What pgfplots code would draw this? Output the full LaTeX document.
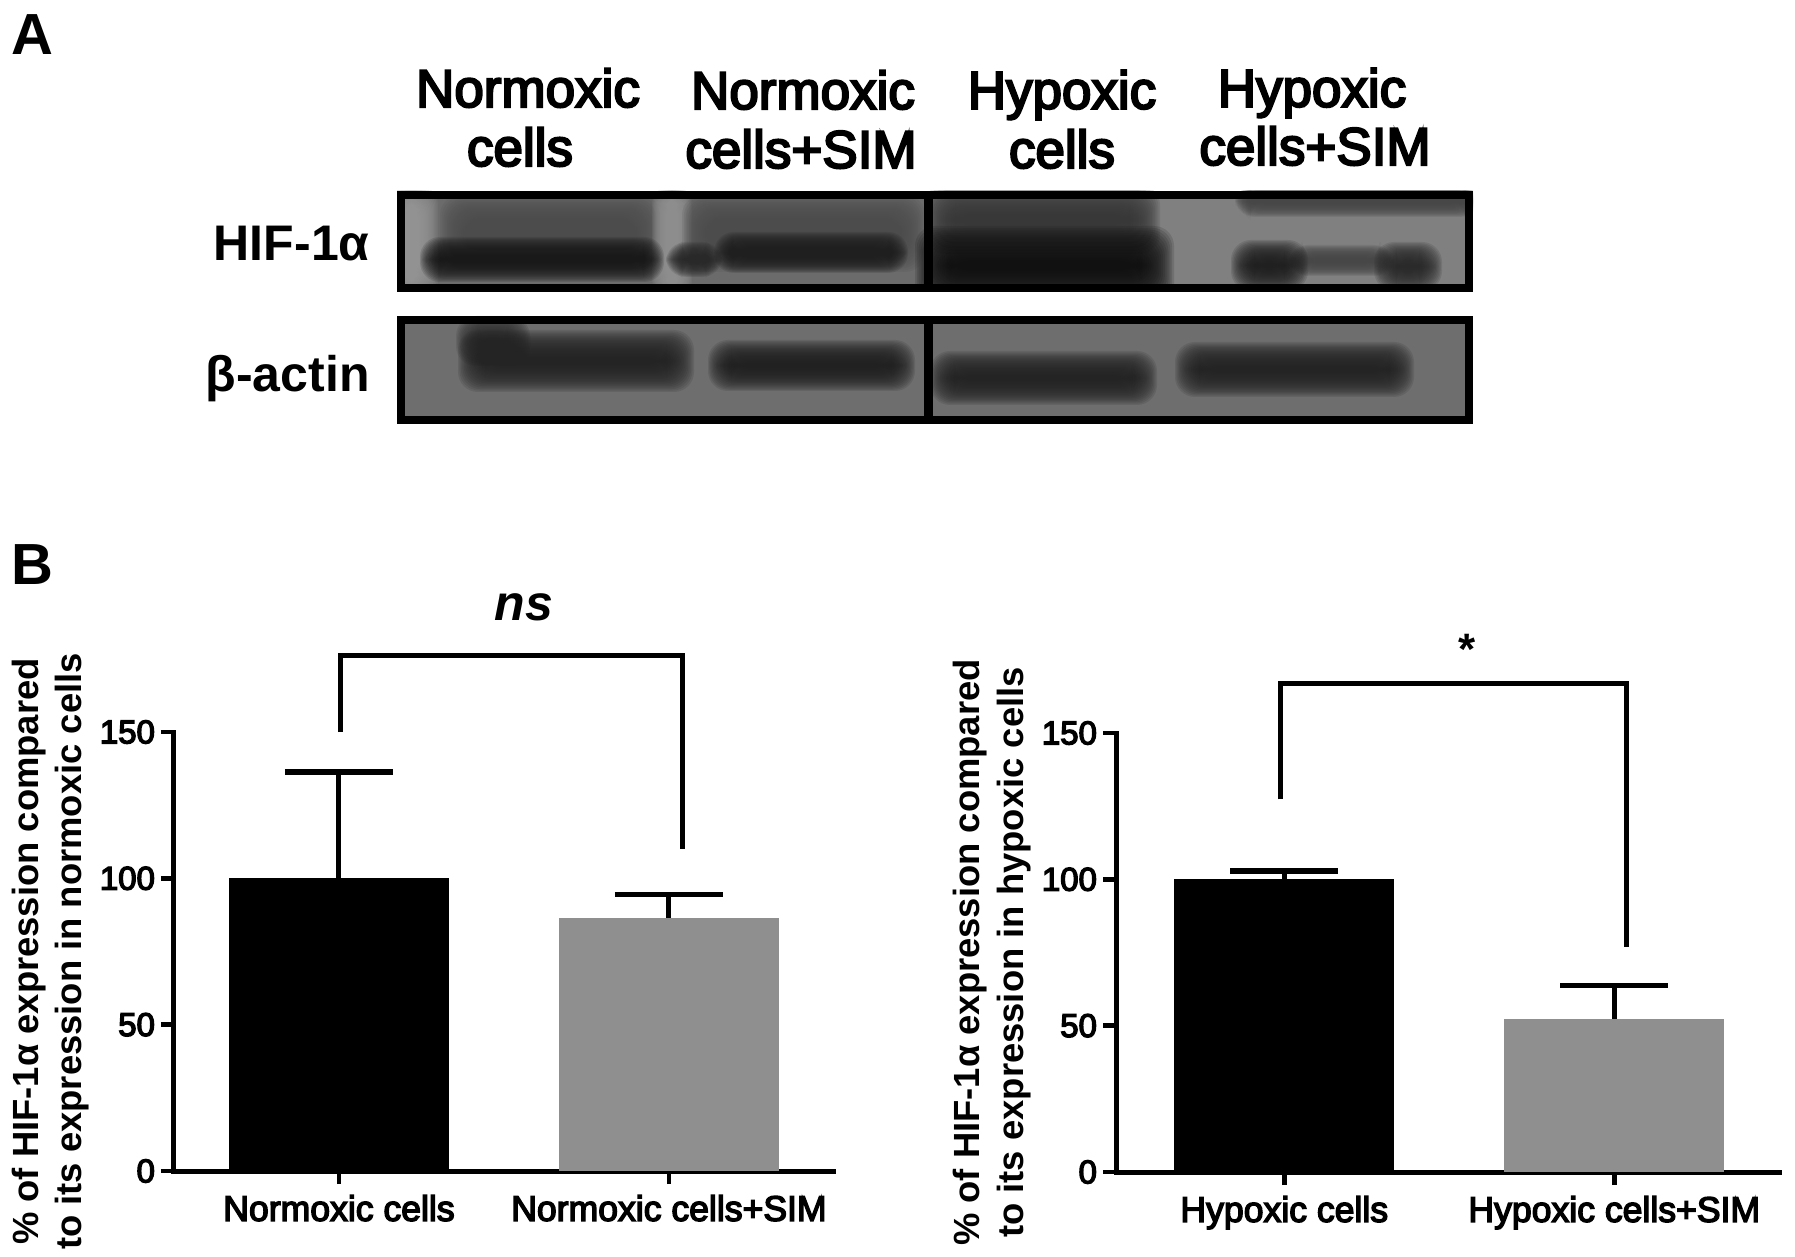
\documentclass[border=0pt]{standalone}
\usepackage{fontspec}
\usepackage{pgfplots}
\pgfplotsset{compat=1.18}
\setmainfont{Liberation Sans}
\newfontfamily\medfont[FakeBold=4]{Liberation Sans}
\newfontfamily\boldfont{Liberation Sans Bold}

% blurred blot band: x1,y1,x2,y2,colour (pixel coordinates of the figure)
\newcommand{\band}[5]{%
  \pgfmathsetmacro{\mindim}{min(#3-#1,#4-#2)}%
  \pgfmathsetmacro{\stp}{(10+0.42*\mindim)/19}%
  \foreach \k in {0,...,19}{%
    \fill[#5,opacity=0.14,rounded corners=10pt]
      ({#1+\k*\stp-10},{#2+\k*\stp-10}) rectangle ({#3-\k*\stp+10},{#4-\k*\stp+10});
  }%
}

\pgfplotsset{
  panel/.style={
    scale only axis,
    anchor=south west,
    width=329.5pt,height=219.5pt,
    axis lines=left,
    axis line style={-,line width=2.5pt,line cap=rect},
    clip=false,
    xmin=-0.5,xmax=1.497,
    ymin=0,ymax=150,
    xtick={0,1},
    ytick={0,50,100,150},
    tick style={black,line width=2.2pt},
    major tick length=6.5pt,
    tick align=outside,
    xtick pos=left,ytick pos=left,
    xticklabel style={yshift=-2pt,font=\fontsize{17.8}{20}\medfont},
    yticklabel style={xshift=0.5pt,font=\fontsize{16.5}{20}\medfont},
    /pgf/number format/assume math mode=true,
    every axis y label/.style={
      at={(axis description cs:-0.187,0.5)},rotate=90,anchor=center,
      align=center,font=\fontsize{18.2}{21.7}\boldfont},
  },
  barplot/.style={
    ybar,bar width=110pt,bar shift=0pt,fill=#1,draw=none,
    error bars/.cd,y dir=plus,y explicit,
    error bar style={black,line width=2.5pt},
    error mark options={black,rotate=90,mark size=27pt,line width=2.8pt},
  },
  bracket/.style={black,line width=2.5pt,no markers,line join=miter},
}

\begin{document}
\begin{tikzpicture}
\path (0pt,0pt) rectangle (897.5pt,-628pt);

\begin{scope}[x=0.5pt,y=-0.5pt]
  % panel A, HIF-1alpha
  \begin{scope}
    \clip (397,191) rectangle (1473,292);
    \fill[black!58] (397,191) rectangle (928,292);
    \fill[black!50] (928,191) rectangle (1473,292);
    \band{395}{195}{428}{290}{black!40}
    \band{450}{205}{650}{262}{black!70}
    \band{662}{195}{682}{290}{black!42}
    \band{692}{205}{915}{262}{black!70}
    \band{430}{247}{654}{272}{black!90}
    \band{676}{252}{712}{267}{black!84}
    \band{724}{242}{898}{263}{black!88}
    \band{934}{195}{1150}{245}{black!78}
    \band{925}{236}{1164}{295}{black!94}
    \band{1245}{195}{1470}{207}{black!72}
    \band{1298}{255}{1384}{266}{black!72}
    \band{1241}{250}{1298}{281}{black!88}
    \band{1384}{252}{1432}{281}{black!84}
  \end{scope}
  % panel A, beta-actin
  \begin{scope}
    \clip (397,316) rectangle (1473,424);
    \fill[black!57] (397,316) rectangle (1473,424);
    \band{466}{326}{520}{356}{black!82}
    \band{468}{340}{684}{382}{black!86}
    \band{718}{350}{905}{381}{black!87}
    \band{940}{361}{1147}{395}{black!86}
    \band{1185}{352}{1404}{387}{black!86}
  \end{scope}
  \draw[black,line width=4pt] (401,195) rectangle (1469,288);
  \draw[black,line width=4pt] (401,320) rectangle (1469,420);
  \fill[black] (924,191) rectangle (933,292);
  \fill[black] (924,316) rectangle (933,424);

  \node[font=\fontsize{26.5}{30}\medfont] at (528,88) {Normoxic};
  \node[font=\fontsize{26.5}{30}\medfont] at (520,147) {cells};
  \node[font=\fontsize{26.5}{30}\medfont] at (803,90) {Normoxic};
  \node[font=\fontsize{26.5}{30}\medfont] at (801,149) {cells+SIM};
  \node[font=\fontsize{26.5}{30}\medfont] at (1062,95) {Hypoxic};
  \node[font=\fontsize{26.5}{30}\medfont] at (1062,149) {cells};
  \node[font=\fontsize{26.5}{30}\medfont] at (1312,93) {Hypoxic};
  \node[font=\fontsize{26.5}{30}\medfont] at (1315,146) {cells+SIM};
  \node[anchor=east,inner sep=0pt,font=\fontsize{25}{30}\boldfont] at (370,244) {HIF-1α};
  \node[anchor=east,inner sep=0pt,font=\fontsize{25}{30}\boldfont] at (370,379) {β-actin};
  \node[font=\fontsize{29}{32}\boldfont] at (32,35) {A};
  \node[font=\fontsize{29}{32}\boldfont] at (32,565) {B};
\end{scope}

% panel B, left
\begin{axis}[panel,at={(87pt,-585.5pt)},
  xticklabels={Normoxic cells,Normoxic cells+SIM},
  ylabel={\% of HIF-1α expression compared\\to its expression in normoxic cells}]
\addplot[barplot=black] coordinates {(0,100) +- (0,36.3)};
\addplot[barplot={black!44}] coordinates {(1,86.5) +- (0,8)};
\addplot[bracket] coordinates {(0.005,150) (0.005,176.3) (1.04,176.3) (1.04,110)};
\node[font=\fontsize{25}{28}\boldfont\itshape] at (axis cs:0.56,192.7) {ns};
\end{axis}

% panel B, right
\begin{axis}[panel,at={(558pt,-586pt)},width=331.5pt,xmin=-0.51,xmax=1.499,
  xticklabels={Hypoxic cells,Hypoxic cells+SIM},
  ylabel={\% of HIF-1α expression compared\\to its expression in hypoxic cells}]
\addplot[barplot=black] coordinates {(0,100) +- (0,2.8)};
\addplot[barplot={black!44}] coordinates {(1,52.3) +- (0,11.4)};
\addplot[bracket] coordinates {(-0.013,127.3) (-0.013,167) (1.038,167) (1.038,77)};
\node[font=\fontsize{22}{26}\boldfont] at (axis cs:0.555,178.5) {*};
\end{axis}
\end{tikzpicture}
\end{document}
